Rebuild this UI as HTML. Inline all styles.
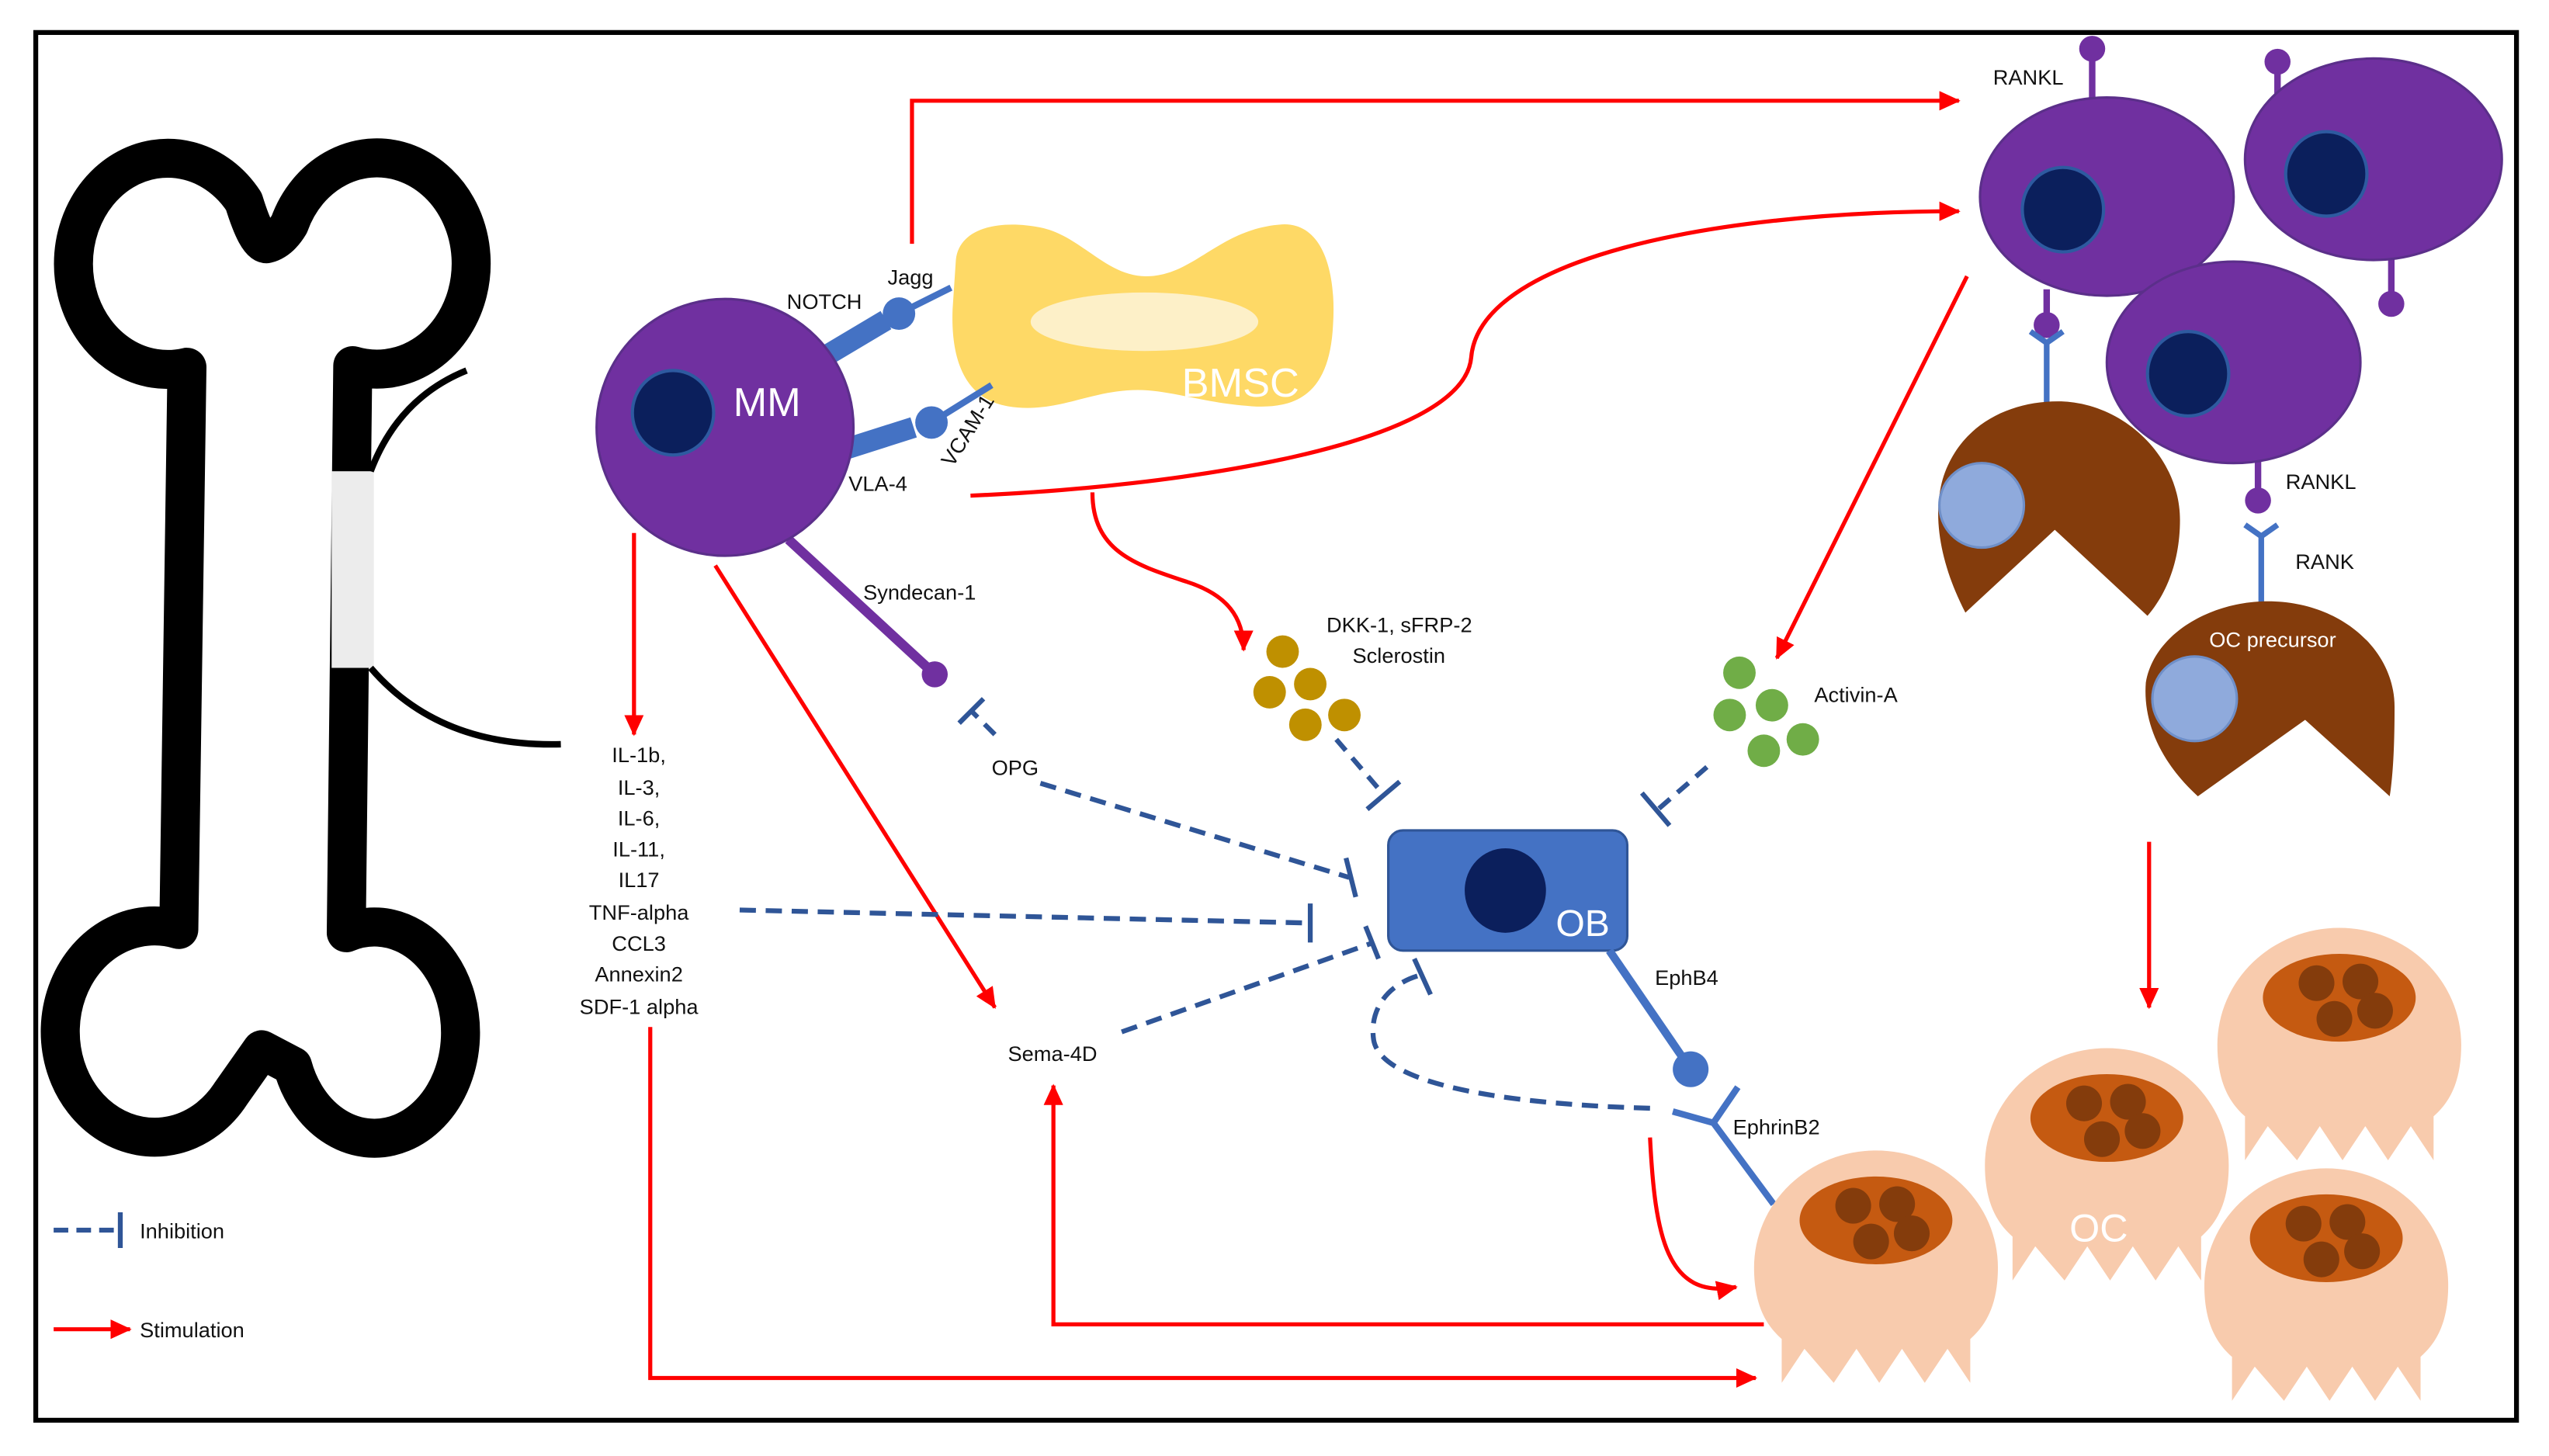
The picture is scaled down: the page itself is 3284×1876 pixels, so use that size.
<!DOCTYPE html>
<html><head><meta charset="utf-8"><style>
html,body{margin:0;padding:0;background:#fff;}
svg{display:block;}
text{font-family:"Liberation Sans",sans-serif;}
</style></head><body>
<svg width="3284" height="1876" viewBox="0 0 1568 896" preserveAspectRatio="none" xmlns="http://www.w3.org/2000/svg">
<defs>
<marker id="ar" markerUnits="userSpaceOnUse" markerWidth="14" markerHeight="12" refX="12" refY="6" orient="auto">
<path d="M0,0 L13,6 L0,12 Z" fill="#ff0000"/>
</marker>
<g id="oc">
<path d="M0,72 A75,72 0 0,1 150,72 C150,96 142,108 133,116 L133,143 L119,122 L105,143 L91,122 L77,143 L63,122 L49,143 L31,122 L17,143 L17,116 C8,108 0,96 0,72 Z" fill="#f8cbad"/>
<ellipse cx="75" cy="43" rx="47" ry="27" fill="#c55a11"/>
<circle cx="61" cy="34" r="11" fill="#843c0c"/>
<circle cx="88" cy="33" r="11" fill="#843c0c"/>
<circle cx="72" cy="56" r="11" fill="#843c0c"/>
<circle cx="97" cy="51" r="11" fill="#843c0c"/>
</g>
</defs>
<rect x="0" y="0" width="1568" height="896" fill="#fff"/>
<rect x="22" y="20" width="1526" height="854" fill="none" stroke="#000" stroke-width="3"/>

<!-- bone -->
<path d="M115,226 A58,65 0 1,1 150,124 Q158,150 164,150 Q172,148 178,138 A58,65 0 1,1 217,225 L213,574 A53,65 0 1,1 180,656 L161,646 L142,673 A58,65 0 1,1 110,572 Z" fill="#fff" stroke="#000" stroke-width="24" stroke-linejoin="round"/>
<rect x="204" y="290" width="26" height="121" fill="#ececec"/>
<path d="M228,290 Q245,245 287,228" fill="none" stroke="#000" stroke-width="4"/>
<path d="M228,411 Q270,460 345,458" fill="none" stroke="#000" stroke-width="4"/>

<!-- red stimulation arrows -->
<g fill="none" stroke="#ff0000" stroke-width="2.5">
<path d="M561,150 L561,62 L1205,62" marker-end="url(#ar)"/>
<path d="M597,305 C720,300 900,275 905,220 C910,160 1050,130 1205,130" marker-end="url(#ar)"/>
<path d="M672,303 C672,340 700,348 730,358 C755,366 765,380 765,400" marker-end="url(#ar)"/>
<path d="M390,328 L390,452" marker-end="url(#ar)"/>
<path d="M440,348 L612,620" marker-end="url(#ar)"/>
<path d="M1210,170 L1093,405" marker-end="url(#ar)"/>
<path d="M400,632 L400,848 L1080,848" marker-end="url(#ar)"/>
<path d="M1085,815 L648,815 L648,668" marker-end="url(#ar)"/>
<path d="M1322,518 L1322,620" marker-end="url(#ar)"/>
<path d="M1015,700 C1018,760 1025,800 1068,792" marker-end="url(#ar)"/>
<path d="M33,818 L80,818" marker-end="url(#ar)"/>
</g>

<!-- blue dashed inhibitions -->
<g fill="none" stroke="#2f5597" stroke-width="3">
<path d="M612,452 L598,438" stroke-dasharray="9,6"/>
<path d="M590,445 L605,430"/>
<path d="M640,482 L830,540" stroke-dasharray="10,6"/>
<path d="M828,528 L834,552"/>
<path d="M455,560 L805,568" stroke-dasharray="10,6"/>
<path d="M806,556 L806,580"/>
<path d="M690,635 L845,580" stroke-dasharray="10,6"/>
<path d="M840,570 L848,590"/>
<path d="M822,455 L852,490" stroke-dasharray="9,6"/>
<path d="M841,498 L861,481"/>
<path d="M1050,472 L1020,498" stroke-dasharray="9,6"/>
<path d="M1010,488 L1027,508"/>
<path d="M1015,682 C940,680 850,670 845,640 C842,620 855,605 874,600" stroke-dasharray="10,6"/>
<path d="M870,590 L880,612"/>
<path d="M33,757 L72,757" stroke-dasharray="9,5"/>
<path d="M74,746 L74,768"/>
</g>

<!-- BMSC -->
<path d="M588,160 C590,140 615,135 640,140 C665,145 680,170 705,170 C735,170 750,140 790,138 C815,138 822,170 820,200 C818,240 800,252 770,250 C740,248 720,240 700,240 C670,240 650,255 620,250 C590,245 585,215 586,190 Z" fill="#fed966"/>
<ellipse cx="704" cy="198" rx="70" ry="18" fill="#fdf0c8"/>
<text x="727" y="244" font-size="25" fill="#fff">BMSC</text>

<!-- MM connectors -->
<line x1="503" y1="222" x2="545" y2="197" stroke="#4472c4" stroke-width="13"/>
<line x1="553" y1="193" x2="585" y2="177" stroke="#4472c4" stroke-width="4"/>
<circle cx="553" cy="193" r="10" fill="#4472c4"/>
<line x1="518" y1="277" x2="562" y2="263" stroke="#4472c4" stroke-width="13"/>
<line x1="573" y1="260" x2="610" y2="237" stroke="#4472c4" stroke-width="4"/>
<circle cx="573" cy="260" r="10" fill="#4472c4"/>
<line x1="485" y1="332" x2="575" y2="415" stroke="#7030a0" stroke-width="6"/>
<circle cx="575" cy="415" r="8" fill="#7030a0"/>

<!-- MM -->
<circle cx="446" cy="263" r="79" fill="#7030a0" stroke="#5b2f8a" stroke-width="1.5"/>
<ellipse cx="414" cy="254" rx="25" ry="26" fill="#0b1f5c" stroke="#2e5aa0" stroke-width="2"/>
<text x="451" y="256" font-size="25" fill="#fff">MM</text>

<g font-size="13" fill="#111">
<text x="484" y="190">NOTCH</text>
<text x="546" y="175">Jagg</text>
<text x="522" y="302">VLA-4</text>
<text transform="translate(586,288) rotate(-58)">VCAM-1</text>
<text x="531" y="369">Syndecan-1</text>
<text x="610" y="477">OPG</text>
<text x="620" y="653">Sema-4D</text>
<text x="816" y="389">DKK-1, sFRP-2</text>
<text x="832" y="408">Sclerostin</text>
<text x="1116" y="432">Activin-A</text>
<text x="1018" y="606">EphB4</text>
<text x="1066" y="698">EphrinB2</text>
<text x="1226" y="52">RANKL</text>
<text x="1406" y="301">RANKL</text>
<text x="1412" y="350">RANK</text>
<text x="86" y="762">Inhibition</text>
<text x="86" y="823">Stimulation</text>
</g>
<g font-size="13" fill="#111" text-anchor="middle">
<text x="393" y="469">IL-1b,</text>
<text x="393" y="489">IL-3,</text>
<text x="393" y="508">IL-6,</text>
<text x="393" y="527">IL-11,</text>
<text x="393" y="546">IL17</text>
<text x="393" y="566">TNF-alpha</text>
<text x="393" y="585">CCL3</text>
<text x="393" y="604">Annexin2</text>
<text x="393" y="624">SDF-1 alpha</text>
</g>

<!-- dots -->
<g fill="#bf9000">
<circle cx="789" cy="401" r="10"/><circle cx="781" cy="426" r="10"/><circle cx="806" cy="421" r="10"/><circle cx="827" cy="440" r="10"/><circle cx="803" cy="446" r="10"/>
</g>
<g fill="#70ad47">
<circle cx="1070" cy="414" r="10"/><circle cx="1064" cy="440" r="10"/><circle cx="1090" cy="434" r="10"/><circle cx="1109" cy="455" r="10"/><circle cx="1085" cy="462" r="10"/>
</g>

<!-- OB -->
<rect x="854" y="511" width="147" height="74" rx="9" fill="#4472c4" stroke="#2f5597" stroke-width="1.5"/>
<ellipse cx="926" cy="548" rx="25" ry="26" fill="#0b1f5c"/>
<text x="957" y="576" font-size="23" fill="#fff">OB</text>
<line x1="990" y1="585" x2="1040" y2="658" stroke="#4472c4" stroke-width="5"/>
<circle cx="1040" cy="658" r="11" fill="#4472c4"/>
<path d="M1029,684 L1054,691 L1069,669 M1054,691 L1091,741" fill="none" stroke="#4472c4" stroke-width="4"/>

<!-- purple cells -->
<g fill="#7030a0">
<line x1="1287" y1="60" x2="1287" y2="32" stroke="#7030a0" stroke-width="4"/><circle cx="1287" cy="30" r="8"/>
<line x1="1401" y1="62" x2="1401" y2="40" stroke="#7030a0" stroke-width="4"/><circle cx="1401" cy="38" r="8"/>
<line x1="1259" y1="178" x2="1259" y2="198" stroke="#7030a0" stroke-width="4"/><circle cx="1259" cy="200" r="8"/>
<line x1="1471" y1="155" x2="1471" y2="185" stroke="#7030a0" stroke-width="4"/><circle cx="1471" cy="187" r="8"/>
<line x1="1389" y1="280" x2="1389" y2="305" stroke="#7030a0" stroke-width="4"/><circle cx="1389" cy="308" r="8"/>
<ellipse cx="1460" cy="98" rx="79" ry="62" stroke="#5b2f8a" stroke-width="1.5"/>
<ellipse cx="1296" cy="121" rx="78" ry="61" stroke="#5b2f8a" stroke-width="1.5"/>
</g>
<ellipse cx="1431" cy="107" rx="25" ry="26" fill="#0b1f5c" stroke="#2e5aa0" stroke-width="2"/>
<ellipse cx="1269" cy="129" rx="25" ry="26" fill="#0b1f5c" stroke="#2e5aa0" stroke-width="2"/>

<!-- Y receptors -->
<path d="M1249,204 L1259,211 L1269,204 M1259,211 L1259,258" fill="none" stroke="#4472c4" stroke-width="3.5"/>
<path d="M1381,323 L1391,330 L1401,323 M1391,330 L1391,375" fill="none" stroke="#4472c4" stroke-width="3.5"/>

<!-- brown pacman cells -->
<path d="M1264,326 L1209,377 C1195,350 1188,320 1195,295 C1205,262 1235,247 1266,247 C1305,247 1341,280 1341,320 C1341,345 1333,365 1321,379 Z" fill="#843c0c"/>
<circle cx="1219" cy="311" r="26" fill="#8faadc" stroke="#6f8fc8" stroke-width="1.5"/>

<ellipse cx="1374" cy="223" rx="78" ry="62" fill="#7030a0" stroke="#5b2f8a" stroke-width="1.5"/>
<ellipse cx="1346" cy="230" rx="25" ry="26" fill="#0b1f5c" stroke="#2e5aa0" stroke-width="2"/>

<path d="M1418,443 L1352,490 C1330,470 1318,445 1320,420 C1325,390 1360,370 1395,370 C1440,370 1473,400 1473,435 C1473,460 1472,478 1470,490 Z" fill="#843c0c"/>
<circle cx="1350" cy="430" r="26" fill="#8faadc" stroke="#6f8fc8" stroke-width="1.5"/>
<text x="1398" y="398" font-size="13" fill="#fff" text-anchor="middle">OC precursor</text>

<!-- osteoclasts -->
<use href="#oc" transform="translate(1364,571)"/>
<use href="#oc" transform="translate(1221,645)"/>
<use href="#oc" transform="translate(1356,719)"/>
<use href="#oc" transform="translate(1079,708)"/>
<text x="1291" y="764" font-size="24" fill="#fff" text-anchor="middle">OC</text>
</svg>
</body></html>
